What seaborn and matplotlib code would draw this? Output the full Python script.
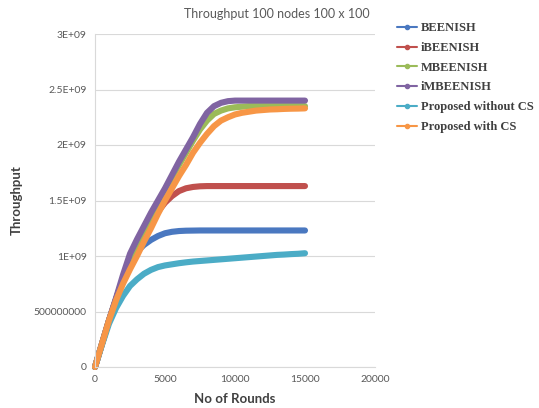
import numpy as np
import pandas as pd
import matplotlib
matplotlib.use("Agg")
import matplotlib.pyplot as plt
from matplotlib.lines import Line2D
import seaborn as sns

# rounds (x axis)
rounds = [0, 500, 1000, 1500, 2000, 2500, 3000, 3500, 4000, 4500, 5000,
          5500, 6000, 6500, 7000, 7500, 8000, 8500, 9000, 9500, 10000,
          10500, 11000, 11500, 12000, 12500, 13000, 13500, 14000, 14500, 15000]

# throughput values, in units of 1E+09
beenish = [0, 0.21, 0.42, 0.61, 0.79, 0.94, 1.04, 1.10, 1.145, 1.18, 1.205,
           1.218, 1.225, 1.228, 1.229, 1.23, 1.23, 1.23, 1.23, 1.23, 1.23,
           1.23, 1.23, 1.23, 1.23, 1.23, 1.23, 1.23, 1.23, 1.23, 1.23]
ibeenish = [0, 0.21, 0.42, 0.61, 0.80, 0.97, 1.10, 1.21, 1.31, 1.40, 1.48,
            1.54, 1.585, 1.61, 1.622, 1.628, 1.63, 1.63, 1.63, 1.63, 1.63,
            1.63, 1.63, 1.63, 1.63, 1.63, 1.63, 1.63, 1.63, 1.63, 1.63]
mbeenish = [0, 0.21, 0.42, 0.61, 0.80, 0.98, 1.12, 1.24, 1.36, 1.48, 1.59,
            1.71, 1.82, 1.93, 2.04, 2.14, 2.22, 2.28, 2.31, 2.33, 2.34,
            2.345, 2.35, 2.35, 2.35, 2.35, 2.35, 2.35, 2.35, 2.35, 2.35]
imbeenish = [0, 0.21, 0.42, 0.62, 0.83, 1.02, 1.15, 1.27, 1.39, 1.50, 1.61,
             1.73, 1.85, 1.96, 2.07, 2.19, 2.29, 2.35, 2.38, 2.395, 2.40,
             2.40, 2.40, 2.40, 2.40, 2.40, 2.40, 2.40, 2.40, 2.40, 2.40]
prop_without_cs = [0, 0.20, 0.39, 0.53, 0.64, 0.73, 0.79, 0.84, 0.875, 0.90, 0.915,
                   0.925, 0.935, 0.943, 0.95, 0.955, 0.96, 0.965, 0.97, 0.975, 0.98,
                   0.985, 0.99, 0.995, 1.0, 1.005, 1.01, 1.013, 1.017, 1.02, 1.025]
prop_with_cs = [0, 0.21, 0.42, 0.60, 0.75, 0.88, 1.00, 1.13, 1.25, 1.38, 1.50,
                1.61, 1.72, 1.82, 1.93, 2.02, 2.10, 2.17, 2.22, 2.25, 2.275,
                2.29, 2.30, 2.31, 2.315, 2.32, 2.322, 2.325, 2.327, 2.328, 2.33]

series_names = ["BEENISH", "iBEENISH", "MBEENISH", "iMBEENISH",
                "Proposed without CS", "Proposed with CS"]
series_values = [beenish, ibeenish, mbeenish, imbeenish, prop_without_cs, prop_with_cs]
colors = ["#4a78c0", "#c0504d", "#9bbb59", "#8064a2", "#4bacc6", "#f79646"]

yticks = [0, 5e8, 1e9, 1.5e9, 2e9, 2.5e9, 3e9]
ytick_labels = ["0", "500000000", "1E+09", "1.5E+09", "2E+09", "2.5E+09", "3E+09"]
xticks = [0, 5000, 10000, 15000, 20000]

rows = []
for name, vals in zip(series_names, series_values):
    for r, v in zip(rounds, vals):
        rows.append({"rounds": r, "throughput": v * 1e9, "series": name})
df = pd.DataFrame(rows)

sns.set_style("white")
plt.rcParams['font.family'] = ['Lato', 'DejaVu Sans']

fig = plt.figure(figsize=(5.39, 4.08), dpi=100)
ax = fig.add_axes([95 / 539, 1 - 367 / 408, 280 / 539, 333 / 408])

sns.lineplot(data=df, x="rounds", y="throughput", hue="series",
             hue_order=series_names, palette=colors, linewidth=4.4,
             legend=False, ax=ax, sort=False)
for ln in ax.lines:
    ln.set_solid_capstyle("round")
    ln.set_solid_joinstyle("round")
    ln.set_clip_on(False)

ax.set_xlim(0, 20000)
ax.set_ylim(0, 3e9)
ax.set_yticks(yticks)
ax.set_yticklabels(ytick_labels)
ax.set_xticks(xticks)
ax.set_xticklabels([str(t) for t in xticks])
ax.tick_params(axis="both", length=0, labelsize=7.5, colors="#595959", pad=6)
ax.yaxis.grid(True, color="#d9d9d9", linewidth=0.8)
ax.set_axisbelow(True)
for side in ["top", "right"]:
    ax.spines[side].set_visible(False)
for side in ["left", "bottom"]:
    ax.spines[side].set_color("#d9d9d9")
    ax.spines[side].set_linewidth(0.8)

ax.set_xlabel("No of Rounds", fontsize=9.5, fontweight="bold", color="#404040", labelpad=6)
ax.set_ylabel("Throughput", fontsize=9.5, fontweight="bold", color="#404040", labelpad=8)

fig.text(277 / 539, 1 - 14 / 408, "Throughput 100 nodes 100 x 100", ha="center",
         va="center", fontsize=9, color="#595959")

handles = [Line2D([0], [0], color=c, lw=1.5, marker="o", markersize=3) for c in colors]
leg = fig.legend(handles, series_names, loc="upper left",
                 bbox_to_anchor=(386 / 539, 1 - 11 / 408), frameon=False,
                 handlelength=1.6, handletextpad=0.3, labelspacing=0.62,
                 prop={"family": "Liberation Serif", "weight": "bold", "size": 9})
for t in leg.get_texts():
    t.set_color("#404040")

fig.savefig("out.png", dpi=100)
